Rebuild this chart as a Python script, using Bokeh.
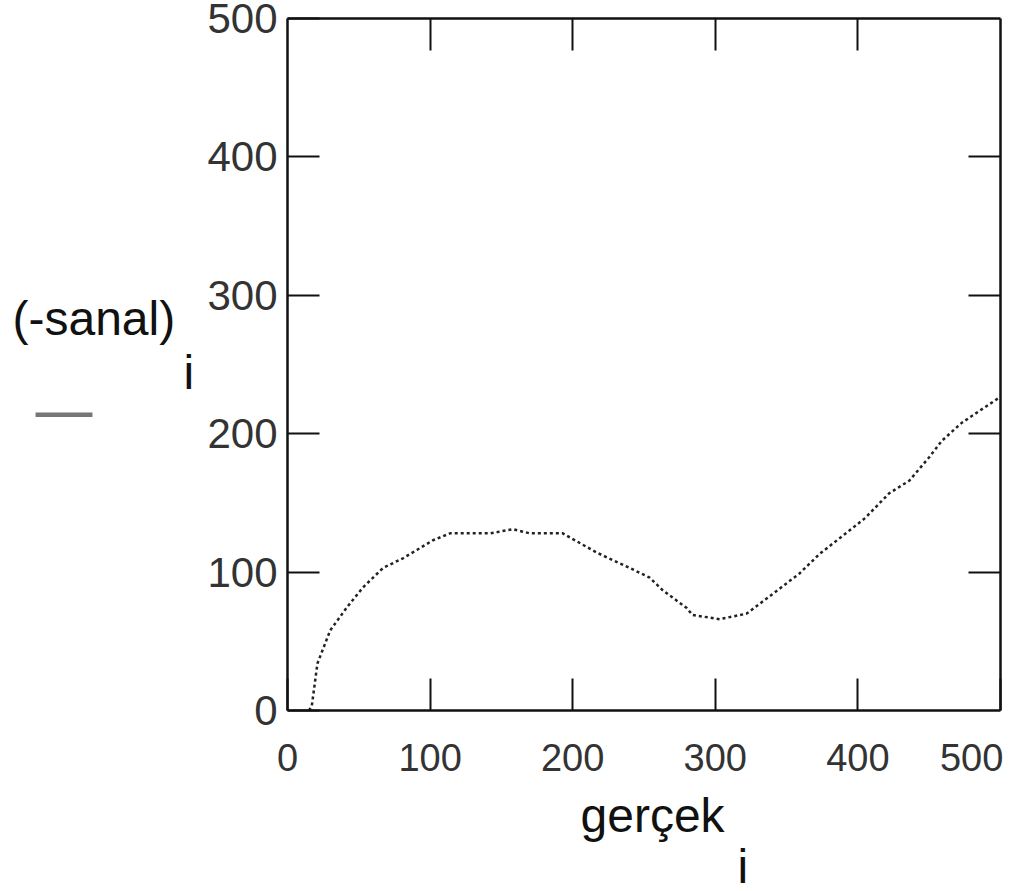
from bokeh.plotting import figure
from bokeh.models import LinearAxis, Label, Range1d, FixedTicker
from bokeh.embed import file_html
from bokeh.resources import INLINE

# data
gercek = [15, 17, 21, 30, 42, 53, 67, 81, 102, 114, 142, 158, 170, 193, 217, 240,
          254, 263, 280, 284, 303, 322, 340, 359, 373, 394, 405, 422, 436, 450, 459, 473, 499]
sanal = [0, 3, 34, 58, 75, 89, 103, 110, 123, 128, 128, 131, 128, 128, 114, 103,
         96, 87, 74, 69, 66, 70, 84, 99, 113, 130, 139, 157, 166, 183, 195, 208, 226]
ticks = [0, 100, 200, 300, 400, 500]
inner_ticks = [100, 200, 300, 400]

W, H = 1024, 891
FL, FR, FT, FB = 287, 1000, 18, 710  # visible box in canvas pixels
sx = (FR - FL) / 500.0
sy = (FB - FT) / 500.0
x_range = Range1d(-FL / sx, 500 + (W - FR) / sx)
y_range = Range1d(-(H - FB) / sy, 500 + FT / sy)

p = figure(width=W, height=H, output_backend="svg", toolbar_location=None,
           x_range=x_range, y_range=y_range, min_border=0,
           x_axis_location=None, y_axis_location=None)
p.grid.visible = False
p.outline_line_color = None
p.background_fill_color = "white"
p.border_fill_color = "white"

def style(ax, labels=True, size="40px"):
    ax.bounds = (0, 500)
    ax.major_tick_in = 32
    ax.major_tick_out = 0
    ax.minor_tick_line_color = None
    ax.major_tick_line_width = 2
    ax.major_tick_line_color = "#111111"
    ax.axis_line_width = 2.5
    ax.axis_line_color = "#111111"
    ax.major_label_text_font = "Liberation Sans"
    ax.major_label_text_font_size = size
    ax.major_label_text_color = "#333333" if labels else None

bottom = LinearAxis(ticker=FixedTicker(ticks=ticks), fixed_location=0)
style(bottom, True, "38px")
bottom.major_label_standoff = 26
bottom.major_label_overrides = {500: "500\u00a0\u00a0"}
left = LinearAxis(ticker=FixedTicker(ticks=ticks), fixed_location=0)
style(left, True, "42px")
left.major_label_standoff = 10
top = LinearAxis(ticker=FixedTicker(ticks=inner_ticks), fixed_location=500)
style(top, False)
right = LinearAxis(ticker=FixedTicker(ticks=inner_ticks), fixed_location=500)
style(right, False)
p.add_layout(bottom, "below")
p.add_layout(left, "left")
p.add_layout(top, "above")
p.add_layout(right, "right")

p.line(gercek, sanal, line_color="#222222", line_width=2.5, line_dash="3 3")

def lab(text, x, y, size="48px", baseline="alphabetic", color="#111111", font="Liberation Sans"):
    p.add_layout(Label(x=x, y=H - y, x_units="screen", y_units="screen", text=text,
                       text_font=font, text_font_size=size, text_color=color,
                       text_align="left", text_baseline=baseline))

lab("(-sanal)", 12, 318)
lab("i", 183, 372)
lab("\u2014", 32, 410, size="63px", baseline="middle", color="#777777", font="DejaVu Sans")
lab("gerçek", 580, 815)
lab("i", 737, 866)

open("out.html", "w").write(file_html(p, INLINE))
